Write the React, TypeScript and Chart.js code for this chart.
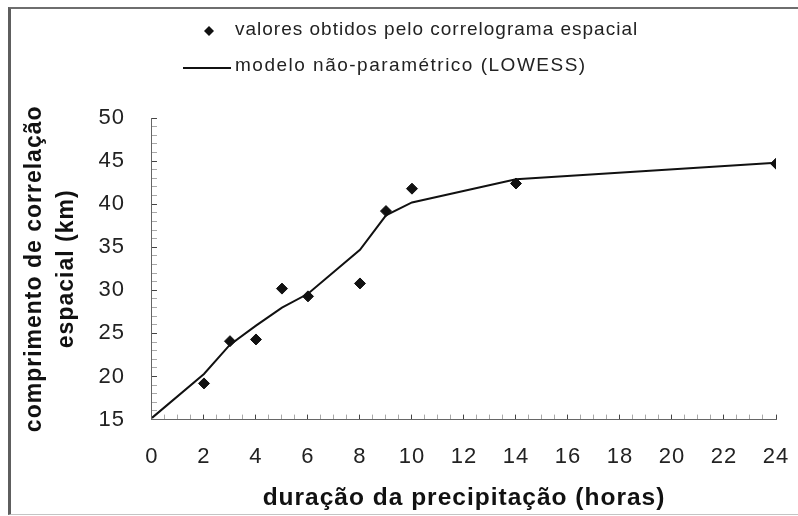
import { useEffect, useRef } from 'react';
import { Chart, registerables } from 'chart.js';

Chart.register(...registerables);

// ---- data ----
const hours = [2, 3, 4, 5, 6, 8, 9, 10, 14, 24];
const observed = [19.2, 24.1, 24.3, 30.2, 29.3, 30.8, 39.2, 41.8, 42.4, 44.7];
const lowessHours = [0, 2, 3, 4, 5, 6, 8, 9, 10, 14, 24];
const lowessValues = [15.2, 20.3, 23.7, 25.9, 28.0, 29.6, 34.7, 38.7, 40.2, 42.9, 44.8];
const xTickLabels = ['0', '2', '4', '6', '8', '10', '12', '14', '16', '18', '20', '22', '24'];
const yTickLabels = ['15', '20', '25', '30', '35', '40', '45', '50'];
const seriesNames = ['valores obtidos pelo correlograma espacial', 'modelo não-paramétrico (LOWESS)'];
const xTitle = 'duração da precipitação (horas)';
const yTitle = ['comprimento de correlação', 'espacial (km)'];

const FONT = '"Liberation Sans", Arial, Helvetica, sans-serif';

const spacingPlugin = {
  id: 'letterSpacing',
  beforeUpdate(c: any) { c.ctx.letterSpacing = '1px'; },
  beforeDraw(c: any) { c.ctx.letterSpacing = '1px'; },
};

const legendPlugin = {
  id: 'customLegend',
  afterDraw(c: any) {
    const ctx = c.ctx;
    const ds0 = c.data.datasets[0];
    const ds1 = c.data.datasets[1];
    ctx.save();
    ctx.font = `19px ${FONT}`;
    ctx.textBaseline = 'middle';
    ctx.textAlign = 'left';
    // item 1: diamond
    const cx = 209, cy = 31, r = 5;
    ctx.beginPath();
    ctx.moveTo(cx - r, cy);
    ctx.lineTo(cx, cy - r);
    ctx.lineTo(cx + r, cy);
    ctx.lineTo(cx, cy + r);
    ctx.closePath();
    ctx.fillStyle = ds0.backgroundColor;
    ctx.fill();
    ctx.fillStyle = '#222';
    ctx.letterSpacing = '1px';
    ctx.fillText(ds0.label, 235, 30);
    // item 2: line
    ctx.strokeStyle = ds1.borderColor;
    ctx.lineWidth = 2;
    ctx.beginPath();
    ctx.moveTo(183, 68);
    ctx.lineTo(231, 68);
    ctx.stroke();
    ctx.letterSpacing = '1.5px';
    ctx.fillText(ds1.label, 235, 66);
    ctx.restore();
  },
};

export default function App() {
  const ref = useRef<HTMLCanvasElement>(null);

  useEffect(() => {
    if (!ref.current) return;
    const tickColor = (ctx: any, major: number) =>
      ctx.tick && Math.abs(ctx.tick.value % major) < 1e-9 ? '#444' : '#a8a8a8';
    const chart = new Chart(ref.current, {
      type: 'scatter',
      data: {
        datasets: [
          {
            label: seriesNames[0],
            data: hours.map((h, i) => ({ x: h, y: observed[i] })),
            pointStyle: 'rectRot',
            pointRadius: 5.5,
            backgroundColor: '#111',
            borderColor: '#111',
            borderWidth: 1,
            order: 1,
          },
          {
            label: seriesNames[1],
            data: lowessHours.map((h, i) => ({ x: h, y: lowessValues[i] })),
            showLine: true,
            pointRadius: 0,
            borderColor: '#111',
            backgroundColor: '#111',
            borderWidth: 2,
            tension: 0,
            order: 2,
          } as any,
        ],
      },
      options: {
        animation: false,
        responsive: false,
        events: [],
        layout: { padding: { top: 118, right: 22, bottom: 0, left: 10 } },
        plugins: {
          legend: { display: false },
          tooltip: { enabled: false },
        },
        scales: {
          x: {
            type: 'linear',
            min: 0,
            max: 24,
            border: { display: true, color: '#666', width: 1 },
            grid: {
              drawOnChartArea: false,
              drawTicks: true,
              tickLength: -5,
              tickColor: (ctx: any) => tickColor(ctx, 2),
            },
            ticks: {
              stepSize: 0.5,
              autoSkip: false,
              maxRotation: 0,
              padding: 3,
              color: '#222',
              font: { family: FONT, size: 22, lineHeight: 78 / 22 },
              callback: (v: any) => (xTickLabels.includes(String(v)) ? String(v) : ''),
            },
            title: {
              display: true,
              text: xTitle,
              color: '#111',
              font: { family: FONT, size: 24.5, weight: 'bold', lineHeight: 1.2 },
              padding: { top: -15, bottom: 3 },
            },
          },
          y: {
            type: 'linear',
            min: 15,
            max: 50,
            border: { display: true, color: '#666', width: 1 },
            grid: {
              drawOnChartArea: false,
              drawTicks: true,
              tickLength: -5,
              tickColor: (ctx: any) => tickColor(ctx, 5),
            },
            ticks: {
              stepSize: 1,
              autoSkip: false,
              padding: 32,
              color: '#222',
              font: { family: FONT, size: 22, lineHeight: 1.2 },
              callback: (v: any) => (yTickLabels.includes(String(v)) ? String(v) : ''),
            },
            title: {
              display: true,
              text: yTitle,
              color: '#111',
              font: { family: FONT, size: 23, weight: 'bold', lineHeight: 32 / 23 },
              padding: { top: 9, bottom: -16.5 },
            },
          },
        },
      },
      plugins: [spacingPlugin, legendPlugin],
    } as any);
    return () => chart.destroy();
  }, []);

  return (
    <div style={{ position: 'absolute', left: 0, top: 0, width: 798, height: 516, background: '#fff' }}>
      <canvas ref={ref} width={798} height={516} style={{ display: 'block', position: 'absolute', left: 0, top: 0 }} />
      <div
        style={{
          position: 'absolute',
          left: 8,
          top: 7,
          width: 790,
          height: 508,
          boxSizing: 'border-box',
          borderTop: '2px solid #6e6e6e',
          borderLeft: '3px solid #5e5e5e',
          borderBottom: '1px solid #c4c4c4',
          pointerEvents: 'none',
        }}
      />
    </div>
  );
}
